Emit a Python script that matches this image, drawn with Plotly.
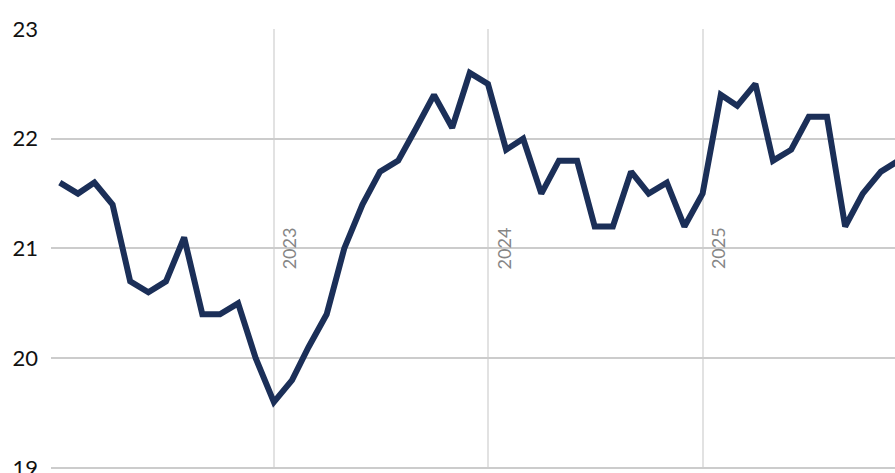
import plotly.graph_objects as go
import pandas as pd

months = pd.date_range("2022-01-01", "2025-12-01", freq="MS")
values = [
    21.6, 21.5, 21.6, 21.4, 20.7, 20.6, 20.7, 21.1, 20.4, 20.4, 20.5, 20.0,
    19.6, 19.8, 20.1, 20.4, 21.0, 21.4, 21.7, 21.8, 22.1, 22.4, 22.1, 22.6,
    22.5, 21.9, 22.0, 21.5, 21.8, 21.8, 21.2, 21.2, 21.7, 21.5, 21.6, 21.2,
    21.5, 22.4, 22.3, 22.5, 21.8, 21.9, 22.2, 22.2, 21.2, 21.5, 21.7, 21.8,
]
year_marks = ["2023-01-01", "2024-01-01", "2025-01-01"]
year_labels = ["2023", "2024", "2025"]
y_ticks = [19, 20, 21, 22, 23]

fig = go.Figure()
fig.add_trace(go.Scatter(
    x=months, y=values, mode="lines",
    line=dict(color="#1b2f58", width=6),
    hoverinfo="skip", showlegend=False,
))

for d, lab in zip(year_marks, year_labels):
    fig.add_annotation(
        x=d, y=21, xref="x", yref="y", text=lab, textangle=-90,
        showarrow=False, xanchor="center", yanchor="middle", xshift=16,
        font=dict(family="Lato, sans-serif", size=18, color="#858585"),
    )

fig.update_layout(
    width=895, height=473,
    margin=dict(l=51, r=0, t=29, b=4),
    plot_bgcolor="white", paper_bgcolor="white",
    font=dict(family="Lato, sans-serif"),
    xaxis=dict(
        type="date", range=["2021-12-17", "2025-11-25"],
        tickvals=year_marks, showticklabels=False,
        showgrid=True, gridcolor="#e2e2e2", gridwidth=1.5,
        zeroline=False, showline=False, ticks="", automargin=False,
    ),
    yaxis=dict(
        range=[18.99, 23.0], tickvals=y_ticks,
        showgrid=True, gridcolor="#cccccc", gridwidth=1.5,
        zeroline=False, showline=False, ticks="", automargin=False,
        tickfont=dict(family="Lato, sans-serif", size=22, color="#111111"),
        ticklabelstandoff=12, ticklabeloverflow="allow",
    ),
)

fig.write_html(
    "out.html",
    config={"displayModeBar": False},
    post_script="document.body.style.margin='0';document.body.style.overflow='hidden';",
)
